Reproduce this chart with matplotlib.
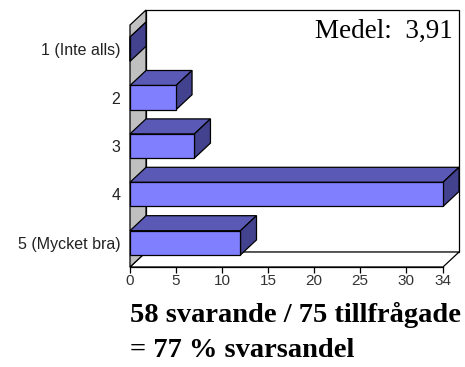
import matplotlib
matplotlib.use("Agg")
import matplotlib.pyplot as plt
from matplotlib.patches import Polygon

# answer counts per grade, top to bottom
categories = ["1 (Inte alls)", "2", "3", "4", "5 (Mycket bra)"]
counts = [0, 5, 7, 34, 12]
xticks = [0, 5, 10, 15, 20, 25, 30, 34]
mean_label = "Medel:  3,91"
footer = ["58 svarande / 75 tillfrågade", "= 77 % svarsandel"]

FRONT = "#8080ff"
TOP = "#5a5ab6"
SIDE = "#42428f"
WALL = "#c0c0c0"

# depth of the 3d box in data units
DX = 1.74
DY = -0.31
XMAX = 34
BAR_H = 0.5

fig = plt.figure(figsize=(4.65, 3.67), dpi=100)
W, H = 465, 367
ax = fig.add_axes([130 / W, 1 - 267 / H, 328 / W, 258 / H])
ax.set_xlim(0, 328 / 9.206)
ax.set_ylim(4.5, 4.5 - 258 / 48.4)

n = len(categories)
y0, y1 = -0.5, n - 0.5


def poly(pts, fc, z, lw=0.9):
    ax.add_patch(Polygon(pts, closed=True, fc=fc, ec="black", lw=lw,
                         zorder=z, clip_on=False, joinstyle="miter"))


# back wall, floor and left wall
poly([(DX, y0 + DY), (XMAX + DX, y0 + DY), (XMAX + DX, y1 + DY), (DX, y1 + DY)],
     "white", 1)
poly([(0, y1), (DX, y1 + DY), (XMAX + DX, y1 + DY), (XMAX, y1)], "white", 1)
poly([(0, y0), (DX, y0 + DY), (DX, y1 + DY), (0, y1)], WALL, 1)

# bars drawn from the back row to the front so faces overlap correctly
for i, v in enumerate(counts):
    top, bot = i - BAR_H / 2, i + BAR_H / 2
    z = 2 + i
    poly([(0, top), (DX, top + DY), (v + DX, top + DY), (v, top)], TOP, z)
    poly([(v, top), (v + DX, top + DY), (v + DX, bot + DY), (v, bot)], SIDE, z)
    poly([(0, top), (v, top), (v, bot), (0, bot)], FRONT, z)

for s in ax.spines.values():
    s.set_visible(False)
ax.spines["bottom"].set_visible(True)
ax.spines["bottom"].set_bounds(0, XMAX)
ax.spines["bottom"].set_linewidth(0.9)

ax.set_xticks(xticks)
ax.set_xticklabels([str(t) for t in xticks])
ax.tick_params(axis="x", length=4, width=0.9, pad=1, labelsize=11,
               labelcolor="#333333")
ax.set_yticks(range(n))
ax.set_yticklabels(categories)
ax.tick_params(axis="y", length=0, pad=7, labelsize=11.5, labelcolor="#222222")
for lbl in ax.get_xticklabels() + ax.get_yticklabels():
    lbl.set_fontfamily("Liberation Sans")

fig.text(453 / W, 1 - 31 / H, mean_label, ha="right", va="center",
         fontsize=19.5, family="Liberation Serif")
fig.text(130 / W, 1 - 322 / H, footer[0], ha="left", va="baseline",
         fontsize=20.5, family="Liberation Serif", fontweight="bold")
fig.text(130 / W, 1 - 357 / H, footer[1], ha="left", va="baseline",
         fontsize=20.5, family="Liberation Serif", fontweight="bold")

fig.savefig("out.png", dpi=100)
